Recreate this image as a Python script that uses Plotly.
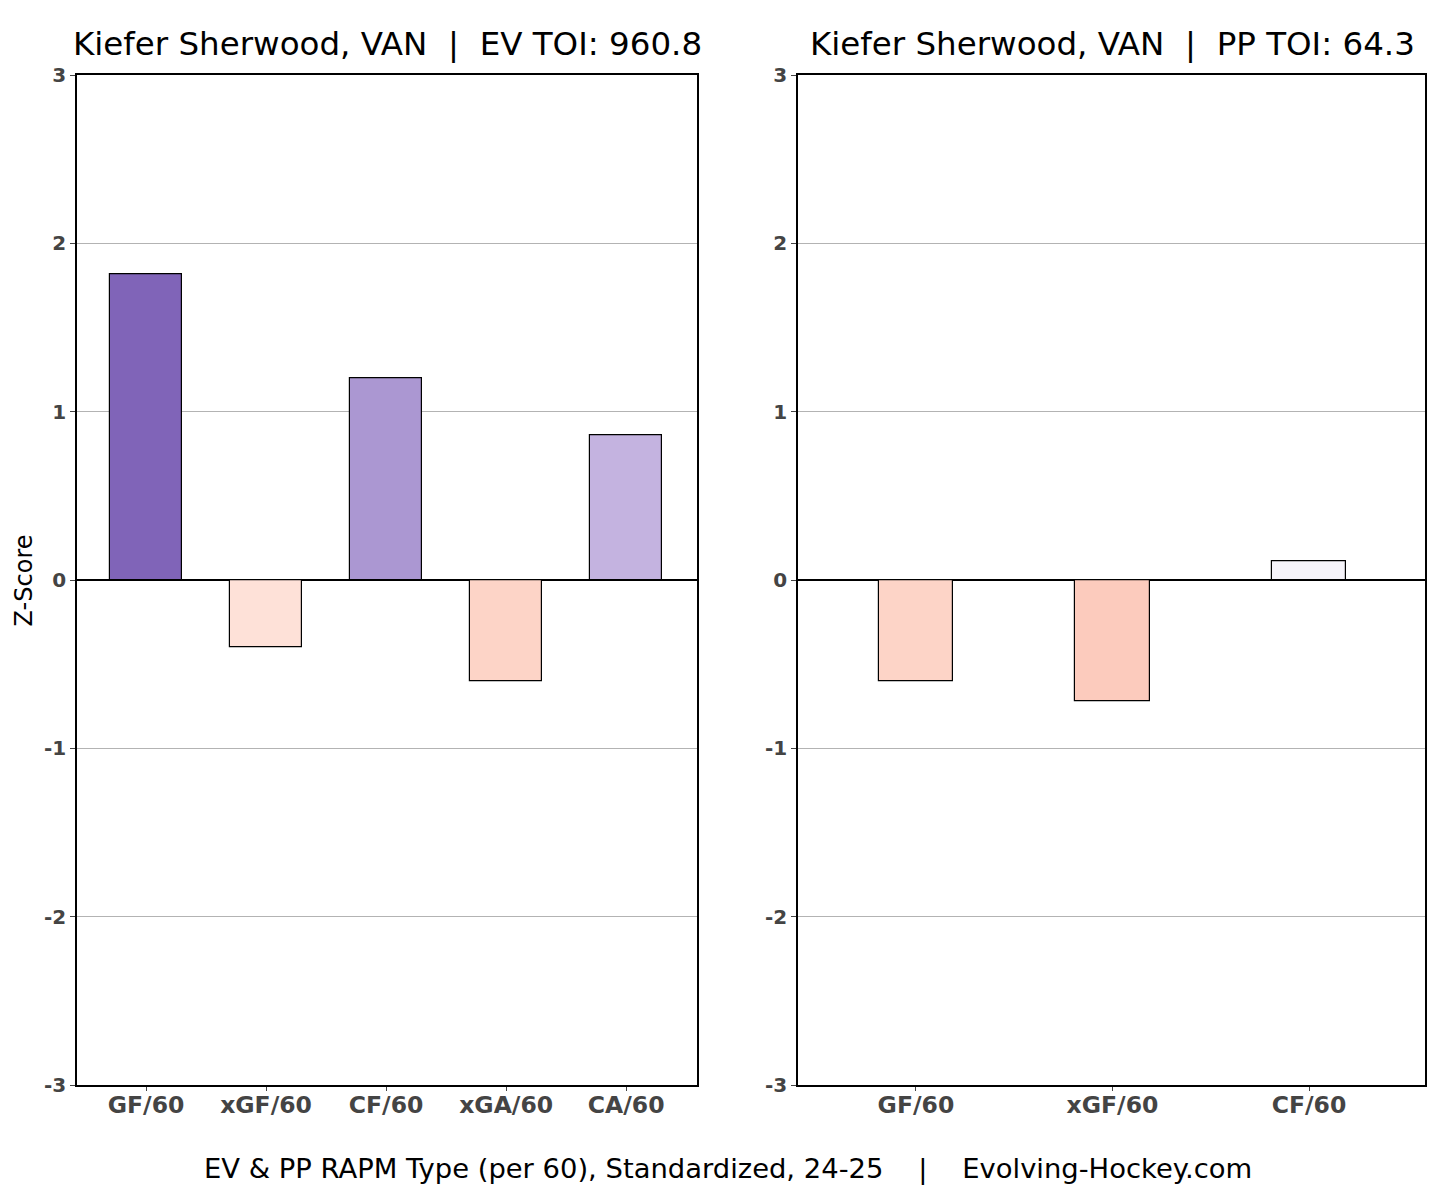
import plotly.graph_objects as go

# Data
ev_categories = ["GF/60", "xGF/60", "CF/60", "xGA/60", "CA/60"]
ev_values = [1.82, -0.40, 1.20, -0.60, 0.86]
ev_colors = ["#8064B8", "#FEE1D8", "#AB97D2", "#FDD4C7", "#C4B3E0"]

pp_categories = ["GF/60", "xGF/60", "CF/60"]
pp_values = [-0.60, -0.72, 0.11]
pp_colors = ["#FDD4C7", "#FCCBBD", "#F6F4FA"]

ev_title = "Kiefer Sherwood, VAN  |  EV TOI: 960.8"
pp_title = "Kiefer Sherwood, VAN  |  PP TOI: 64.3"
footer = "EV & PP RAPM Type (per 60), Standardized, 24-25    |    Evolving-Hockey.com"
y_ticks = [-3, -2, -1, 0, 1, 2, 3]

# figure sized to fit the 1456x1199 window with the page's 8px body margin
OFF = 8
W, H = 1456 - 2 * OFF, 1199 - 2 * OFF
# measured vertical mapping of paper fraction to screen pixels
Y_BOTTOM, Y_SPAN = 1180.1, 1161.9


def px(x):
    return (x - OFF) / W


def py(y):
    return (Y_BOTTOM - y) / Y_SPAN


fig = go.Figure()

fig.add_trace(go.Bar(
    x=list(range(len(ev_categories))), y=ev_values, width=0.6,
    marker=dict(color=ev_colors, line=dict(color="black", width=1.2)),
    xaxis="x", yaxis="y", showlegend=False))
fig.add_trace(go.Bar(
    x=list(range(len(pp_categories))), y=pp_values, width=0.38,
    marker=dict(color=pp_colors, line=dict(color="black", width=1.2)),
    xaxis="x2", yaxis="y2", showlegend=False))

xtickfont = dict(family="DejaVu Sans", size=23.5, color="#444444", weight="bold")
ytickfont = dict(family="DejaVu Sans", size=20, color="#444444", weight="bold")
ydom = [py(1086), py(73.5)]

common_x = dict(showgrid=False, zeroline=False, showline=True, linecolor="black",
                linewidth=1.5, mirror=True, ticks="outside", ticklen=4,
                tickcolor="#444444", tickfont=xtickfont, ticklabelstandoff=-6)
common_y = dict(range=[-3, 3], tickvals=y_ticks, ticktext=[str(v) for v in y_ticks],
                showgrid=True, gridcolor="#b3b3b3", gridwidth=1,
                zeroline=True, zerolinecolor="black", zerolinewidth=1.5,
                showline=True, linecolor="black", linewidth=1.5, mirror=True,
                ticks="outside", ticklen=5, tickcolor="#444444", tickfont=ytickfont)

fig.update_layout(
    width=W, height=H,
    margin=dict(l=0, r=0, t=0, b=0),
    paper_bgcolor="white", plot_bgcolor="white",
    bargap=0,
    xaxis=dict(domain=[px(77), px(697)], range=[-0.575, 4.59],
               tickvals=list(range(len(ev_categories))), ticktext=ev_categories,
               anchor="y", **common_x),
    yaxis=dict(domain=ydom, anchor="x", **common_y),
    xaxis2=dict(domain=[px(798), px(1425)], range=[-0.6, 2.59],
                tickvals=list(range(len(pp_categories))), ticktext=pp_categories,
                anchor="y2", **common_x),
    yaxis2=dict(domain=ydom, anchor="x2", **common_y),
    font=dict(family="DejaVu Sans", color="black"),
)

fig.add_annotation(text=ev_title, x=px(387), y=py(42), xref="paper", yref="paper",
                   showarrow=False, font=dict(family="DejaVu Sans", size=32.5, color="black"),
                   xanchor="center", yanchor="middle")
fig.add_annotation(text=pp_title, x=px(1112), y=py(42), xref="paper", yref="paper",
                   showarrow=False, font=dict(family="DejaVu Sans", size=32.5, color="black"),
                   xanchor="center", yanchor="middle")
fig.add_annotation(text=footer, x=px(728), y=py(1170), xref="paper", yref="paper",
                   showarrow=False, font=dict(family="DejaVu Sans", size=27.4, color="black"),
                   xanchor="center", yanchor="middle")
fig.add_annotation(text="Z-Score", x=px(24), y=py(580), xref="paper", yref="paper",
                   showarrow=False, textangle=-90,
                   font=dict(family="DejaVu Sans", size=24, color="black"),
                   xanchor="center", yanchor="middle")

fig.write_html("out.html")
